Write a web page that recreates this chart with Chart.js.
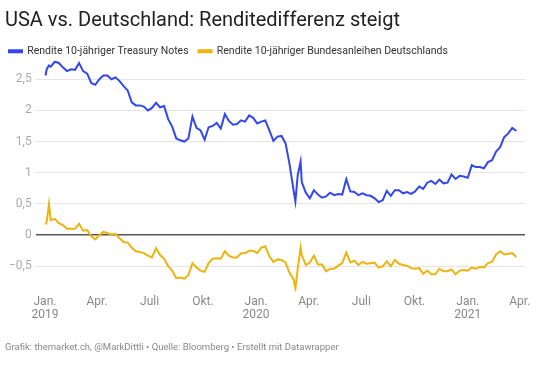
<!DOCTYPE html>
<html>
<head>
<meta charset="utf-8">
<script src="https://cdn.jsdelivr.net/npm/chart.js@4"></script>
<style>
  html, body { margin: 0; padding: 0; background: #fff; }
  #wrap { width: 540px; height: 366px; }
</style>
</head>
<body>
<div id="wrap"><canvas id="chart" width="540" height="366"></canvas></div>
<script>
// weekly readings (roughly Fridays), yield in %
const dates = [
  "2019-01-02","2019-01-04","2019-01-08","2019-01-11","2019-01-18","2019-01-25","2019-02-01","2019-02-08","2019-02-15","2019-02-22",
  "2019-03-01","2019-03-08","2019-03-15","2019-03-22","2019-03-29","2019-04-05","2019-04-12","2019-04-19","2019-04-26","2019-05-03",
  "2019-05-10","2019-05-17","2019-05-24","2019-05-31","2019-06-07","2019-06-14","2019-06-21","2019-06-28","2019-07-05","2019-07-12",
  "2019-07-19","2019-07-26","2019-08-02","2019-08-09","2019-08-16","2019-08-23","2019-08-30","2019-09-06","2019-09-13","2019-09-20",
  "2019-09-27","2019-10-04","2019-10-11","2019-10-18","2019-10-25","2019-11-01","2019-11-08","2019-11-15","2019-11-22","2019-11-29",
  "2019-12-06","2019-12-13","2019-12-20","2019-12-27",
  "2020-01-03","2020-01-10","2020-01-17","2020-01-24","2020-01-31","2020-02-07","2020-02-14","2020-02-21","2020-02-28","2020-03-06",
  "2020-03-09","2020-03-13","2020-03-18","2020-03-20","2020-03-27","2020-04-03","2020-04-10","2020-04-17","2020-04-24","2020-05-01",
  "2020-05-08","2020-05-15","2020-05-22","2020-05-29","2020-06-05","2020-06-12","2020-06-19","2020-06-26","2020-07-03","2020-07-10",
  "2020-07-17","2020-07-24","2020-07-31","2020-08-07","2020-08-14","2020-08-21","2020-08-28","2020-09-04","2020-09-11","2020-09-18",
  "2020-09-25","2020-10-02","2020-10-09","2020-10-16","2020-10-23","2020-10-30","2020-11-06","2020-11-13","2020-11-20","2020-11-27",
  "2020-12-04","2020-12-11","2020-12-18","2020-12-25",
  "2021-01-01","2021-01-08","2021-01-15","2021-01-22","2021-01-29","2021-02-05","2021-02-12","2021-02-19","2021-02-26","2021-03-05",
  "2021-03-12","2021-03-19","2021-03-26"
];

const usYield = [
  2.56,2.66,2.72,2.70,2.78,2.76,2.69,2.63,2.66,2.65,
  2.76,2.63,2.59,2.44,2.41,2.50,2.56,2.56,2.50,2.53,
  2.47,2.39,2.32,2.13,2.08,2.08,2.06,2.00,2.04,2.12,
  2.05,2.07,1.86,1.74,1.55,1.52,1.50,1.55,1.90,1.72,
  1.68,1.53,1.73,1.75,1.80,1.71,1.94,1.83,1.77,1.78,
  1.84,1.82,1.92,1.88,
  1.79,1.82,1.84,1.68,1.51,1.58,1.59,1.47,1.13,0.71,
  0.54,0.96,1.18,0.85,0.68,0.59,0.72,0.65,0.60,0.62,
  0.68,0.64,0.66,0.65,0.90,0.70,0.69,0.64,0.67,0.64,
  0.63,0.59,0.53,0.56,0.71,0.63,0.72,0.72,0.67,0.69,
  0.66,0.70,0.78,0.74,0.84,0.87,0.82,0.89,0.83,0.84,
  0.97,0.90,0.95,0.94,
  0.92,1.12,1.09,1.09,1.07,1.17,1.20,1.34,1.41,1.57,
  1.63,1.72,1.67
];

const deYield = [
  0.17,0.21,0.50,0.24,0.26,0.19,0.16,0.10,0.10,0.10,
  0.18,0.07,0.08,-0.02,-0.07,0.00,0.05,0.03,0.01,0.02,
  -0.05,-0.11,-0.12,-0.20,-0.26,-0.27,-0.29,-0.33,-0.36,-0.21,
  -0.32,-0.38,-0.50,-0.57,-0.69,-0.68,-0.70,-0.64,-0.45,-0.52,
  -0.57,-0.59,-0.45,-0.38,-0.37,-0.38,-0.26,-0.33,-0.36,-0.36,
  -0.29,-0.29,-0.25,-0.25,
  -0.29,-0.20,-0.18,-0.34,-0.43,-0.39,-0.40,-0.44,-0.61,-0.71,
  -0.86,-0.54,-0.20,-0.32,-0.48,-0.44,-0.33,-0.47,-0.47,-0.58,
  -0.54,-0.54,-0.49,-0.45,-0.28,-0.44,-0.41,-0.48,-0.43,-0.46,
  -0.45,-0.44,-0.52,-0.50,-0.42,-0.50,-0.40,-0.46,-0.48,-0.49,
  -0.53,-0.54,-0.53,-0.62,-0.57,-0.63,-0.63,-0.54,-0.58,-0.58,
  -0.55,-0.63,-0.57,-0.56,
  -0.57,-0.52,-0.54,-0.51,-0.52,-0.45,-0.43,-0.31,-0.26,-0.31,
  -0.30,-0.29,-0.35
];

const tickDates = ["2019-01-01","2019-04-01","2019-07-01","2019-10-01","2020-01-01","2020-04-01","2020-07-01","2020-10-01","2021-01-01","2021-04-01"];
const tickLabels = [["Jan.","2019"],"Apr.","Juli","Okt.",["Jan.","2020"],"Apr.","Juli","Okt.",["Jan.","2021"],"Apr."];
const yTicks = [-0.5, 0, 0.5, 1, 1.5, 2, 2.5];

const seriesNames = ["Rendite 10-jähriger Treasury Notes", "Rendite 10-jähriger Bundesanleihen Deutschlands"];
const seriesColors = ["#3347ee", "#ebb40f"];

const t0 = Date.parse("2019-01-01");
const dayOf = d => (Date.parse(d) - t0) / 864e5;
const toPoints = vals => vals.map((v, i) => ({ x: dayOf(dates[i]), y: v }));

Chart.defaults.font.family = "Roboto, 'Liberation Sans', Arial, sans-serif";

// legend padding 10 gives the wide gap between items; trim the box height and left inset it adds
const tightLegend = {
  id: "tightLegend",
  beforeUpdate(chart){
    const lg = chart.legend;
    if (!lg || lg._tight) return;
    const fit = lg.fit.bind(lg);
    lg.fit = () => { fit(); lg.height -= 6; };
    lg._tight = true;
  },
  afterLayout(chart){
    const lg = chart.legend;
    if (lg) { lg.left -= 6; lg.right -= 6; }
  }
};

new Chart(document.getElementById("chart"), {
  type: "line",
  data: {
    datasets: [usYield, deYield].map((vals, i) => ({
      label: seriesNames[i],
      data: toPoints(vals),
      borderColor: seriesColors[i],
      backgroundColor: seriesColors[i],
      borderWidth: 2,
      pointRadius: 0,
      tension: 0
    }))
  },
  plugins: [tightLegend],
  options: {
    responsive: false,
    animation: false,
    layout: { padding: { left: 5, right: 15, top: 0, bottom: 0 } },
    plugins: {
      title: {
        display: true, align: "start",
        text: "USA vs. Deutschland: Renditedifferenz steigt",
        color: "#222", font: { size: 20, weight: "normal" },
        padding: { top: 9, bottom: 3 }
      },
      subtitle: {
        display: true, position: "bottom", align: "start",
        text: "Grafik: themarket.ch, @MarkDittli • Quelle: Bloomberg • Erstellt mit Datawrapper",
        color: "#888", font: { size: 9.5 },
        padding: { top: 16, bottom: 13 }
      },
      legend: {
        align: "start",
        labels: { boxWidth: 13, boxHeight: 2, color: "#333", font: { size: 10.5 }, padding: 10 }
      },
      tooltip: { enabled: false }
    },
    scales: {
      x: {
        type: "linear", min: -16, max: 830,
        afterBuildTicks: axis => { axis.ticks = tickDates.map(d => ({ value: dayOf(d) })); },
        ticks: { autoSkip: false, maxRotation: 0, color: "#888", font: { size: 12, lineHeight: 1.1 }, padding: 4,
                 callback: (v, i) => tickLabels[i] },
        grid: { display: false, drawTicks: false },
        border: { display: false }
      },
      y: {
        min: -0.9, max: 2.8,
        afterBuildTicks: axis => { axis.ticks = yTicks.map(v => ({ value: v })); },
        ticks: { color: "#aaa", font: { size: 12 }, padding: 4,
                 callback: v => String(v).replace(".", ",").replace("-", "−") },
        grid: {
          drawTicks: false,
          color: c => c.tick && c.tick.value === 0 ? "#555" : "#e5e5e5",
          lineWidth: c => c.tick && c.tick.value === 0 ? 1.5 : 1
        },
        border: { display: false }
      }
    }
  }
});
</script>
</body>
</html>
